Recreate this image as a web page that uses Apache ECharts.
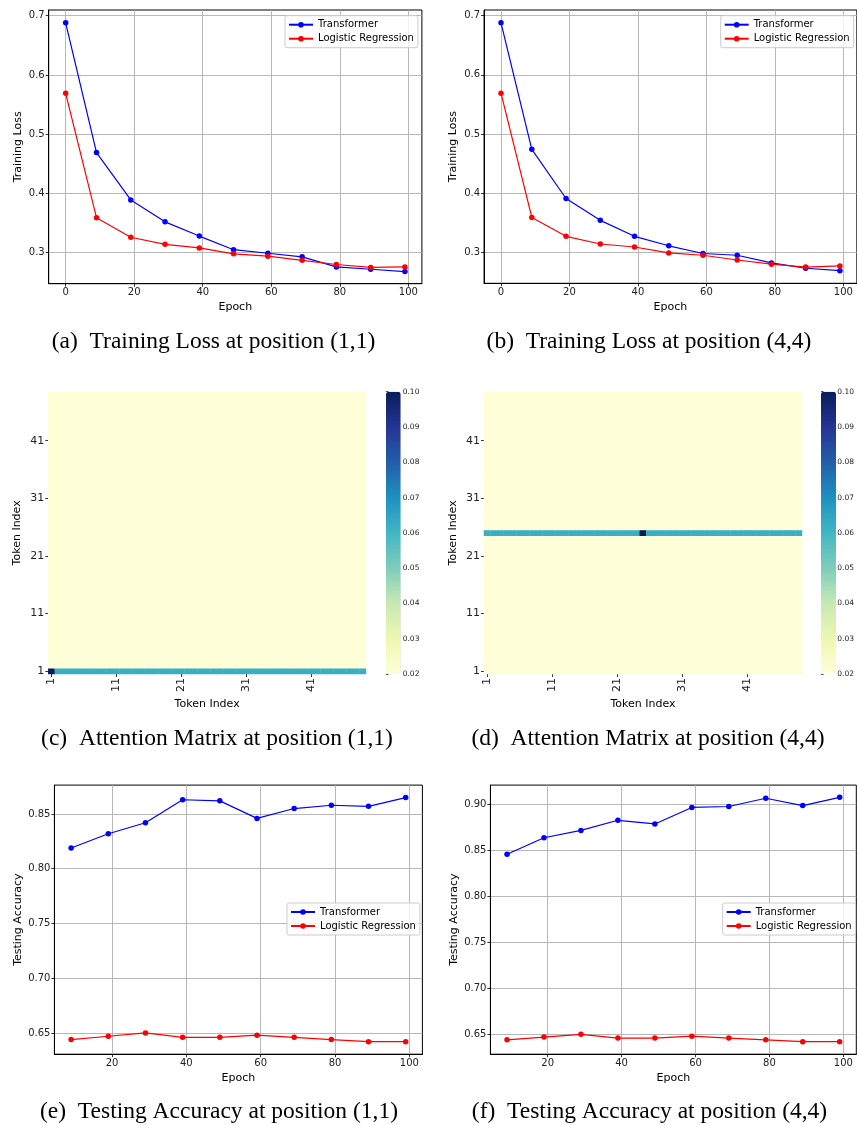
<!DOCTYPE html>
<html>
<head>
<meta charset="utf-8">
<title>Training loss, attention and accuracy</title>
<script src="https://cdn.jsdelivr.net/npm/echarts@6/dist/echarts.min.js"></script>
<style>
  html, body { margin: 0; padding: 0; background: #fff; }
  #chart { width: 857px; height: 1125px; }
</style>
</head>
<body>
<div id="chart"></div>
<script>
  // ---- data ----
  const seriesNames = ['Transformer', 'Logistic Regression'];

  const lossEpochs = [0, 9, 19, 29, 39, 49, 59, 69, 79, 89, 99];
  const lossTransformerA = [0.688, 0.469, 0.389, 0.352, 0.328, 0.305, 0.299, 0.293, 0.276, 0.272, 0.268];
  const lossLogisticA = [0.569, 0.359, 0.326, 0.314, 0.308, 0.298, 0.294, 0.287, 0.280, 0.275, 0.276];
  const lossTransformerB = [0.688, 0.474, 0.391, 0.354, 0.327, 0.311, 0.298, 0.295, 0.282, 0.273, 0.269];
  const lossLogisticB = [0.569, 0.359, 0.327, 0.314, 0.309, 0.299, 0.295, 0.287, 0.280, 0.275, 0.277];

  const accEpochs = [9, 19, 29, 39, 49, 59, 69, 79, 89, 99];
  const accTransformerE = [0.819, 0.832, 0.842, 0.863, 0.862, 0.846, 0.855, 0.858, 0.857, 0.865];
  const accLogisticE = [0.644, 0.647, 0.650, 0.646, 0.646, 0.648, 0.646, 0.644, 0.642, 0.642];
  const accTransformerF = [0.846, 0.864, 0.872, 0.883, 0.879, 0.897, 0.898, 0.907, 0.899, 0.908];
  const accLogisticF = [0.644, 0.647, 0.650, 0.646, 0.646, 0.648, 0.646, 0.644, 0.642, 0.642];

  const lossXTicks = [0, 20, 40, 60, 80, 100];
  const lossYTicks = [0.3, 0.4, 0.5, 0.6, 0.7];
  const accXTicks = [20, 40, 60, 80, 100];
  const accYTicksE = [0.65, 0.70, 0.75, 0.80, 0.85];
  const accYTicksF = [0.65, 0.70, 0.75, 0.80, 0.85, 0.90];

  // attention matrices (49 x 49 tokens)
  const tokenLabels = Array.from({ length: 49 }, (_, i) => String(i + 1));
  const attnBase = 0.0204;
  const attnRowC = 1, attnColC = 1, attnRowValueC = 0.062, attnPeakC = 0.10;
  const attnRowD = 25, attnColD = 25, attnRowValueD = 0.062, attnPeakD = 0.10;
  const ylgnbu = ['#ffffd9', '#edf8b1', '#c7e9b4', '#7fcdbb', '#41b6c4', '#1d91c0', '#225ea8', '#253494', '#081d58'];

  function buildAttention(row, col, rowValue, peak) {
    let out = [];
    for (let y = 0; y < tokenLabels.length; y++) {
      for (let x = 0; x < tokenLabels.length; x++) {
        let v = attnBase;
        if (y === row - 1) v = (x === col - 1) ? peak : rowValue;
        out.push([x, y, v]);
      }
    }
    return out;
  }

  function pairs(xs, ys) {
    return xs.map((x, i) => [x, ys[i]]);
  }

  // ---- styling helpers ----
  const font = 'DejaVu Sans';
  const serif = 'Liberation Serif';

  function frameGrid(left, top, width, height) {
    return { left, top, width, height, show: true, borderColor: '#000', borderWidth: 1, containLabel: false };
  }

  function valueAxis(grid, min, max, ticks, digits, name, nameGap, fontSize) {
    return {
      type: 'value', gridIndex: grid, min, max,
      name, nameLocation: 'middle', nameGap,
      nameTextStyle: { fontFamily: font, fontSize: 11, color: '#000' },
      axisLine: { show: true, onZero: false, lineStyle: { color: '#000', width: 1 } },
      axisTick: { show: true, customValues: ticks, length: 3, lineStyle: { color: '#000', width: 0.8 } },
      axisLabel: { customValues: ticks, fontFamily: font, fontSize: fontSize, color: '#222', margin: 4,
        formatter: v => v.toFixed(digits) },
      splitLine: { show: true, lineStyle: { color: '#b0b0b0', width: 0.9 } }
    };
  }

  function lineSeries(name, color, grid, data) {
    return {
      name, type: 'line', xAxisIndex: grid, yAxisIndex: grid, data,
      symbol: 'circle', symbolSize: 5.5, showSymbol: true,
      lineStyle: { color, width: 1.2 }, itemStyle: { color },
      emphasis: { disabled: true }, animation: false
    };
  }

  function makeLegend(left, top) {
    return {
      left, top, orient: 'vertical', data: seriesNames, selectedMode: false,
      itemWidth: 24, itemHeight: 7, itemGap: 4, padding: [4, 4, 4, 3],
      backgroundColor: 'rgba(255,255,255,0.8)', borderColor: '#cccccc', borderWidth: 1, borderRadius: 2,
      textStyle: { fontFamily: font, fontSize: 10, color: '#000' }
    };
  }

  const everyTenth = (idx) => idx % 10 === 0;

  function tokenAxis(grid, isX, nameGap) {
    return {
      type: 'category', gridIndex: grid, data: tokenLabels,
      name: 'Token Index', nameLocation: 'middle', nameGap,
      nameTextStyle: { fontFamily: font, fontSize: 11, color: '#000' },
      axisLine: { show: false },
      axisTick: { show: true, alignWithLabel: true, interval: everyTenth, length: 3, lineStyle: { color: '#000', width: 0.8 } },
      axisLabel: { interval: everyTenth, fontFamily: font, fontSize: 11, color: '#222', margin: 4, rotate: isX ? 90 : 0 },
      splitLine: { show: false }, splitArea: { show: false }
    };
  }

  function colorbarAxis(grid) {
    return {
      type: 'value', gridIndex: grid, min: 0.02, max: 0.10, interval: 0.01, position: 'right',
      axisLine: { show: false },
      axisTick: { show: true, length: 2.5, lineStyle: { color: '#222', width: 0.8 } },
      axisLabel: { fontFamily: font, fontSize: 7.5, color: '#222', margin: 2, formatter: v => v.toFixed(2) },
      splitLine: { show: false }
    };
  }

  function caption(x, y, text) {
    return {
      type: 'text', x, y,
      style: { text, fontFamily: serif, fontSize: 23.5, fill: '#000', textAlign: 'center', textVerticalAlign: 'middle' }
    };
  }

  let chart = echarts.init(document.getElementById('chart'), null, { renderer: 'canvas' });

  let option = {
    animation: false,
    backgroundColor: '#fff',
    grid: [
      frameGrid(48.7, 10, 373.2, 273.7),      // (a)
      frameGrid(484.05, 10, 372.8, 273.3),    // (b)
      { left: 48.3, top: 391.7, width: 317.7, height: 282.3 },  // (c)
      { left: 484, top: 391.7, width: 318, height: 282.3 },     // (d)
      frameGrid(54.4, 785.1, 368, 269.1),     // (e)
      frameGrid(490.4, 785.1, 365.9, 269.1),  // (f)
      { left: 386, top: 391.7, width: 14.7, height: 282.3 },    // colorbar (c)
      { left: 821, top: 391.7, width: 15, height: 282.3 }       // colorbar (d)
    ],
    xAxis: [
      valueAxis(0, -4.95, 103.95, lossXTicks, 0, 'Epoch', 18, 10),
      valueAxis(1, -4.95, 103.95, lossXTicks, 0, 'Epoch', 18, 10),
      tokenAxis(2, true, 25),
      tokenAxis(3, true, 25),
      valueAxis(4, 4.5, 103.5, accXTicks, 0, 'Epoch', 18, 10),
      valueAxis(5, 4.5, 103.5, accXTicks, 0, 'Epoch', 18, 10),
      { type: 'value', gridIndex: 6, show: false, min: 0, max: 1 },
      { type: 'value', gridIndex: 7, show: false, min: 0, max: 1 }
    ],
    yAxis: [
      valueAxis(0, 0.2476, 0.7096, lossYTicks, 1, 'Training Loss', 25.5, 10),
      valueAxis(1, 0.2476, 0.7096, lossYTicks, 1, 'Training Loss', 25, 10),
      tokenAxis(2, false, 26),
      tokenAxis(3, false, 25),
      valueAxis(4, 0.6306, 0.8764, accYTicksE, 2, 'Testing Accuracy', 31, 10),
      valueAxis(5, 0.6284, 0.9213, accYTicksF, 2, 'Testing Accuracy', 31, 10),
      colorbarAxis(6),
      colorbarAxis(7)
    ],
    legend: [
      makeLegend(285, 15.7),
      makeLegend(720.7, 15.7),
      makeLegend(287, 903),
      makeLegend(722.7, 903)
    ],
    visualMap: [
      { type: 'continuous', seriesIndex: 8, min: 0.02, max: 0.10, calculable: false, hoverLink: false,
        left: 386, top: 391.7, padding: 0, itemWidth: 14.7, itemHeight: 282.3, inRange: { color: ylgnbu } },
      { type: 'continuous', seriesIndex: 9, min: 0.02, max: 0.10, calculable: false, hoverLink: false,
        left: 821, top: 391.7, padding: 0, itemWidth: 15, itemHeight: 282.3, inRange: { color: ylgnbu } }
    ],
    series: [
      lineSeries('Transformer', '#0000ff', 0, pairs(lossEpochs, lossTransformerA)),
      lineSeries('Logistic Regression', '#ff0000', 0, pairs(lossEpochs, lossLogisticA)),
      lineSeries('Transformer', '#0000ff', 1, pairs(lossEpochs, lossTransformerB)),
      lineSeries('Logistic Regression', '#ff0000', 1, pairs(lossEpochs, lossLogisticB)),
      lineSeries('Transformer', '#0000ff', 4, pairs(accEpochs, accTransformerE)),
      lineSeries('Logistic Regression', '#ff0000', 4, pairs(accEpochs, accLogisticE)),
      lineSeries('Transformer', '#0000ff', 5, pairs(accEpochs, accTransformerF)),
      lineSeries('Logistic Regression', '#ff0000', 5, pairs(accEpochs, accLogisticF)),
      {
        type: 'heatmap', xAxisIndex: 2, yAxisIndex: 2,
        data: buildAttention(attnRowC, attnColC, attnRowValueC, attnPeakC),
        itemStyle: { borderWidth: 0 }, emphasis: { disabled: true }
      },
      {
        type: 'heatmap', xAxisIndex: 3, yAxisIndex: 3,
        data: buildAttention(attnRowD, attnColD, attnRowValueD, attnPeakD),
        itemStyle: { borderWidth: 0 }, emphasis: { disabled: true }
      }
    ],
    graphic: [
      caption(213.5, 342, '(a)  Training Loss at position (1,1)'),
      caption(649, 342, '(b)  Training Loss at position (4,4)'),
      caption(217, 739, '(c)  Attention Matrix at position (1,1)'),
      caption(648, 739, '(d)  Attention Matrix at position (4,4)'),
      caption(219, 1111.7, '(e)  Testing Accuracy at position (1,1)'),
      caption(649.5, 1111.7, '(f)  Testing Accuracy at position (4,4)')
    ]
  };

  chart.setOption(option);
  window.addEventListener('resize', () => { chart.resize(); });
</script>
</body>
</html>
